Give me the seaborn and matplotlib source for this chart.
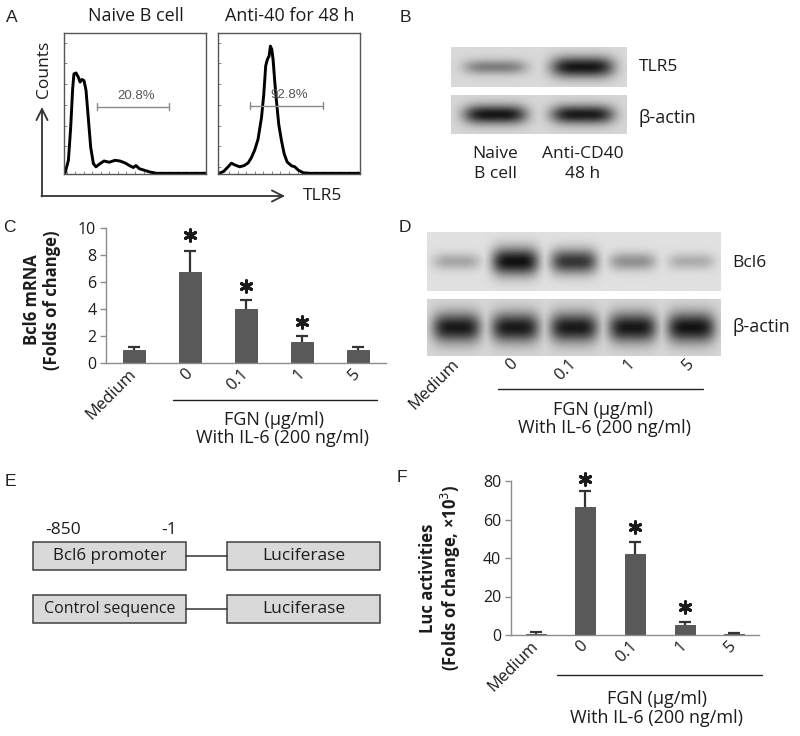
import numpy as np
import pandas as pd
import matplotlib
matplotlib.use("Agg")
import matplotlib.pyplot as plt
import seaborn as sns
from matplotlib.patches import Rectangle
from matplotlib.transforms import ScaledTranslation

# ---------------- data ----------------
# Panel A: flow histograms (x = log fluorescence fraction, y = relative counts)
naive_x = [0.007, 0.031, 0.047, 0.061, 0.070, 0.085, 0.101, 0.113, 0.127, 0.141, 0.155, 0.171,
           0.188, 0.207, 0.225, 0.254, 0.282, 0.319, 0.359, 0.394, 0.430, 0.465, 0.488, 0.507,
           0.531, 0.563, 0.606, 0.653, 1.0]
naive_y = [0.005, 0.099, 0.335, 0.618, 0.724, 0.731, 0.700, 0.665, 0.684, 0.675, 0.606, 0.406,
           0.193, 0.075, 0.052, 0.075, 0.094, 0.085, 0.099, 0.094, 0.080, 0.059, 0.047, 0.061,
           0.038, 0.028, 0.014, 0.005, 0.005]
cd40_x = [0.007, 0.040, 0.071, 0.094, 0.122, 0.153, 0.184, 0.212, 0.235, 0.259, 0.282, 0.306,
          0.322, 0.336, 0.348, 0.360, 0.369, 0.379, 0.388, 0.400, 0.412, 0.428, 0.447, 0.466,
          0.487, 0.518, 0.541, 0.565, 0.600, 0.647, 1.0]
cd40_y = [0.005, 0.019, 0.052, 0.078, 0.064, 0.052, 0.061, 0.080, 0.118, 0.175, 0.252, 0.406,
          0.571, 0.783, 0.830, 0.854, 0.925, 0.901, 0.830, 0.665, 0.524, 0.358, 0.241, 0.146,
          0.087, 0.059, 0.052, 0.028, 0.009, 0.005, 0.005]
hist_titles = ["Naive B cell", "Anti-40 for 48 h"]
gate_pct = ["20.8%", "92.8%"]
gate_lo = [0.230, 0.228]
gate_hi = [0.742, 0.736]
gate_level = [0.488, 0.495]

# Panel B: blot
b_lanes = ["Naive\nB cell", "Anti-CD40\n48 h"]
b_tlr5 = [0.45, 0.97]
b_actin = [0.97, 0.95]

# Panel C
groups = ["Medium", "0", "0.1", "1", "5"]
c_vals = [0.95, 6.72, 4.02, 1.52, 0.95]
c_err = [0.27, 1.58, 0.65, 0.45, 0.27]
c_star = [np.nan, 9.48, 5.7, 3.06, np.nan]

# Panel D: blot
d_bcl6 = [0.28, 1.0, 0.82, 0.38, 0.25]
d_actin = [0.95, 0.95, 0.95, 0.96, 0.98]

# Panel F
f_vals = [0.7, 66.5, 42.3, 5.2, 0.6]
f_err = [1.0, 8.3, 6.1, 1.7, 0.4]
f_star = [np.nan, 80.8, 56.0, 14.7, np.nan]

# ---------------- style ----------------
sns.set_theme(style="white")
plt.rcParams["font.family"] = ["Open Sans", "DejaVu Sans"]
TXT = "#1c1c1c"
SP = "#8c8c8c"
BAR = "#595959"
FS = 13
LETTER = dict(family=["Liberation Sans", "DejaVu Sans"], fontsize=12.5, color="#222222")

W, H = 800, 736
fig = plt.figure(figsize=(W / 100, H / 100), dpi=100)


def rect(x0, y0, x1, y1):
    return [x0 / W, 1 - y1 / H, (x1 - x0) / W, (y1 - y0) / H]


ov = fig.add_axes([0, 0, 1, 1], zorder=10)
ov.set_xlim(0, W)
ov.set_ylim(H, 0)
ov.axis("off")
ov.patch.set_alpha(0)

# ---------------- Panel A ----------------
ov.text(12, 18, "A", ha="center", va="center", **LETTER)
boxes = [(64, 33, 206, 174), (218, 33, 360, 174)]
curves = [(naive_x, naive_y), (cd40_x, cd40_y)]
for i, (bx, (cx, cy)) in enumerate(zip(boxes, curves)):
    ax = fig.add_axes(rect(*bx))
    ax.plot(cx, cy, color="black", lw=2.1, solid_joinstyle="round")
    ax.set_xlim(0, 1)
    ax.set_ylim(0, 1.02)
    ax.set_xticks(np.linspace(0.02, 0.98, 17))
    ax.set_yticks(np.linspace(0.05, 0.95, 7))
    ax.tick_params(direction="in", length=2, width=0.6, color="#777777",
                   labelbottom=False, labelleft=False, bottom=True, left=True)
    for s in ax.spines.values():
        s.set_color("#555555")
        s.set_linewidth(1.0)
    # gate
    ax.plot([gate_lo[i], gate_hi[i]], [gate_level[i]] * 2, color="#8a8a8a", lw=1.0)
    for gx in (gate_lo[i], gate_hi[i]):
        ax.plot([gx, gx], [gate_level[i] - 0.025, gate_level[i] + 0.025], color="#8a8a8a", lw=1.0)
    ax.text((gate_lo[i] + gate_hi[i]) / 2 + 0.02, gate_level[i] + 0.03, gate_pct[i],
            ha="center", va="bottom", fontsize=9.5, color="#555555",
            family=["Liberation Sans", "DejaVu Sans"])
    if i == 1:
        pk = int(np.argmax(cy))
        ax.plot([cx[pk], cx[pk + 4]], [cy[pk], cy[pk + 4] + 0.03], color="#c8c8c8", lw=1.0, zorder=1)
    ov.text((bx[0] + bx[2]) / 2 + 1, 16, hist_titles[i], ha="center", va="center",
            fontsize=FS, color=TXT)

ov.annotate("", xy=(42, 107), xytext=(42, 196.5),
            arrowprops=dict(arrowstyle="->", lw=1.3, color="#333333", mutation_scale=20,
                            shrinkA=0, shrinkB=0))
ov.annotate("", xy=(285, 196), xytext=(41.4, 196),
            arrowprops=dict(arrowstyle="->", lw=1.3, color="#333333", mutation_scale=20,
                            shrinkA=0, shrinkB=0))
ov.text(44, 69, "Counts", rotation=90, ha="center", va="center", fontsize=12.5, color=TXT)
ov.text(323, 196, "TLR5", ha="center", va="center", fontsize=12.5, color=TXT)


# ---------------- blot helper ----------------
def blot(ax, intens, bg, hw=0.36, base_h=0.30):
    n = len(intens)
    xs = np.linspace(-0.5, n - 0.5, 60 * n)
    ys = np.linspace(0, 1, 80)
    X, Y = np.meshgrid(xs, ys)
    dark = np.zeros_like(X)
    for k, v in enumerate(intens):
        hh = base_h * (0.45 + 0.55 * v)
        prof = np.exp(-np.abs((X - k) / hw) ** 4) * np.exp(-((Y - 0.5) / hh) ** 2 * 1.6)
        dark = np.maximum(dark, v * prof)
    img = bg * (1 - 0.93 * dark)
    ax.imshow(img, cmap="gray", vmin=0, vmax=1, extent=(-0.5, n - 0.5, 0, 1),
              aspect="auto", origin="lower", interpolation="bilinear")
    ax.set_xlim(-0.5, n - 0.5)
    ax.set_ylim(0, 1)
    ax.set_yticks([])
    ax.set_xticks(range(n))
    ax.tick_params(length=0, labelbottom=False)
    for s in ax.spines.values():
        s.set_visible(False)


# ---------------- Panel B ----------------
ov.text(405, 18, "B", ha="center", va="center", **LETTER)
axb1 = fig.add_axes(rect(451, 47, 627, 87))
blot(axb1, b_tlr5, 0.85, hw=0.36, base_h=0.34)
axb2 = fig.add_axes(rect(451, 95, 627, 134))
blot(axb2, b_actin, 0.84, hw=0.36, base_h=0.32)
axb2.set_xticklabels(b_lanes, fontsize=12.5, color=TXT, linespacing=1.3)
axb2.tick_params(labelbottom=True, pad=9)
ov.text(639, 67, "TLR5", ha="left", va="center", fontsize=12.5, color=TXT)
ov.text(639, 118, "β-actin", ha="left", va="center", fontsize=13, color=TXT)


# ---------------- bar helper ----------------
def bar_panel(ax, vals, errs, stars, ymax, ystep, dx_lab, dy_lab):
    df = pd.DataFrame({"group": groups, "value": vals})
    sns.barplot(data=df, x="group", y="value", color=BAR, saturation=1, width=0.4,
                errorbar=None, ax=ax, edgecolor="#4a4a4a", linewidth=0.6)
    _, caps, _ = ax.errorbar(np.arange(len(vals)), vals, yerr=[np.zeros(len(vals)), errs],
                             fmt="none", ecolor="#333333", elinewidth=1.6, capsize=4,
                             capthick=1.6)
    caps[0].set_visible(False)
    ax.scatter(np.arange(len(stars)), stars, marker=(6, 2, 0), s=68, color="#1a1a1a",
               linewidths=2.2, zorder=5, clip_on=False)
    ax.set_xlim(-0.5, len(vals) - 0.5)
    ax.set_ylim(0, ymax)
    ticks = np.arange(0, ymax + 0.01, ystep)
    ax.set_yticks(ticks)
    ax.set_yticklabels([f"{int(t)}" for t in ticks], fontsize=11.5, color=TXT)
    ax.set_xticks(np.arange(len(vals)))
    ax.set_xticklabels(groups, rotation=45, ha="right", va="center",
                       rotation_mode="anchor", fontsize=12, color=TXT)
    for lab in ax.get_xticklabels():
        lab.set_transform(lab.get_transform() +
                          ScaledTranslation(dx_lab / 100, -dy_lab / 100, fig.dpi_scale_trans))
    ax.set_xticks(np.arange(-0.5, len(vals)), minor=True)
    ax.tick_params(axis="x", which="major", length=0, pad=6)
    ax.tick_params(axis="x", which="minor", length=5, width=1, color=SP, direction="out")
    ax.tick_params(axis="y", length=4, width=1, color=SP, direction="out", left=True, pad=3)
    ax.set_xlabel("")
    ax.set_ylabel("")
    for side in ("top", "right"):
        ax.spines[side].set_visible(False)
    for side in ("left", "bottom"):
        ax.spines[side].set_color(SP)
        ax.spines[side].set_linewidth(1.0)
    ax.patch.set_alpha(0)


# ---------------- Panel C ----------------
ov.text(9, 227, "C", ha="center", va="center", **LETTER)
axc = fig.add_axes(rect(106, 228, 386, 363))
bar_panel(axc, c_vals, c_err, c_star, 10, 2, 9, 7)
ov.text(42, 300, "Bcl6 mRNA\n(Folds of change)", rotation=90, ha="center", va="center",
        fontsize=12, fontweight="bold", color=TXT, linespacing=1.15)
ov.plot([173, 377], [400, 400], color="#222222", lw=1.0)
ov.text(274, 420, "FGN (μg/ml)", ha="center", va="center", fontsize=FS, color=TXT)
ov.text(282, 438, "With IL-6 (200 ng/ml)", ha="center", va="center", fontsize=FS, color=TXT)

# ---------------- Panel D ----------------
ov.text(405, 227, "D", ha="center", va="center", **LETTER)
axd1 = fig.add_axes(rect(427, 232, 721, 291))
blot(axd1, d_bcl6, 0.88, hw=0.40, base_h=0.30)
axd2 = fig.add_axes(rect(427, 299, 721, 356))
blot(axd2, d_actin, 0.84, hw=0.41, base_h=0.34)
axd2.set_xticklabels(groups, rotation=45, ha="right", va="center", rotation_mode="anchor",
                     fontsize=12, color=TXT)
for lab in axd2.get_xticklabels():
    lab.set_transform(lab.get_transform() + ScaledTranslation(0.09, -0.07, fig.dpi_scale_trans))
axd2.tick_params(labelbottom=True, pad=4)
ov.text(732, 263, "Bcl6", ha="left", va="center", fontsize=12.5, color=TXT)
ov.text(732, 327, "β-actin", ha="left", va="center", fontsize=13, color=TXT)
ov.plot([498, 703], [389, 389], color="#222222", lw=1.0)
ov.text(603, 410, "FGN (μg/ml)", ha="center", va="center", fontsize=FS, color=TXT)
ov.text(604, 428, "With IL-6 (200 ng/ml)", ha="center", va="center", fontsize=FS, color=TXT)

# ---------------- Panel E ----------------
ov.text(10, 481, "E", ha="center", va="center", **LETTER)
rows = [("Bcl6 promoter", 542, 570, 12.2), ("Control sequence", 595, 623, 11.5)]
for label, y0, y1, fs in rows:
    for (x0, x1, t, f) in [(33, 186, label, fs), (227, 380, "Luciferase", 12.5)]:
        ov.add_patch(Rectangle((x0, y0), x1 - x0, y1 - y0, facecolor="#d9d9d9",
                               edgecolor="#404040", lw=1.1))
        ov.text((x0 + x1) / 2, (y0 + y1) / 2, t, ha="center", va="center",
                fontsize=f, color=TXT)
    ov.plot([186, 227], [(y0 + y1) / 2] * 2, color="#333333", lw=1.1)
ov.text(63, 530, "-850", ha="center", va="center", fontsize=12.5, color=TXT)
ov.text(169, 530, "-1", ha="center", va="center", fontsize=12.5, color=TXT)

# ---------------- Panel F ----------------
ov.text(402, 478, "F", ha="center", va="center", **LETTER)
axf = fig.add_axes(rect(511, 481, 759, 635))
bar_panel(axf, f_vals, f_err, f_star, 80, 20, 8, 7)
ov.text(441, 578, "Luc activities\n(Folds of change, ×10$^3$)", rotation=90, ha="center",
        va="center", fontsize=12, fontweight="bold", color=TXT, linespacing=1.15)
ov.plot([557, 762], [675, 675], color="#222222", lw=1.0)
ov.text(657, 699, "FGN (μg/ml)", ha="center", va="center", fontsize=FS, color=TXT)
ov.text(657, 718, "With IL-6 (200 ng/ml)", ha="center", va="center", fontsize=FS, color=TXT)

fig.savefig("out.png", dpi=100)
